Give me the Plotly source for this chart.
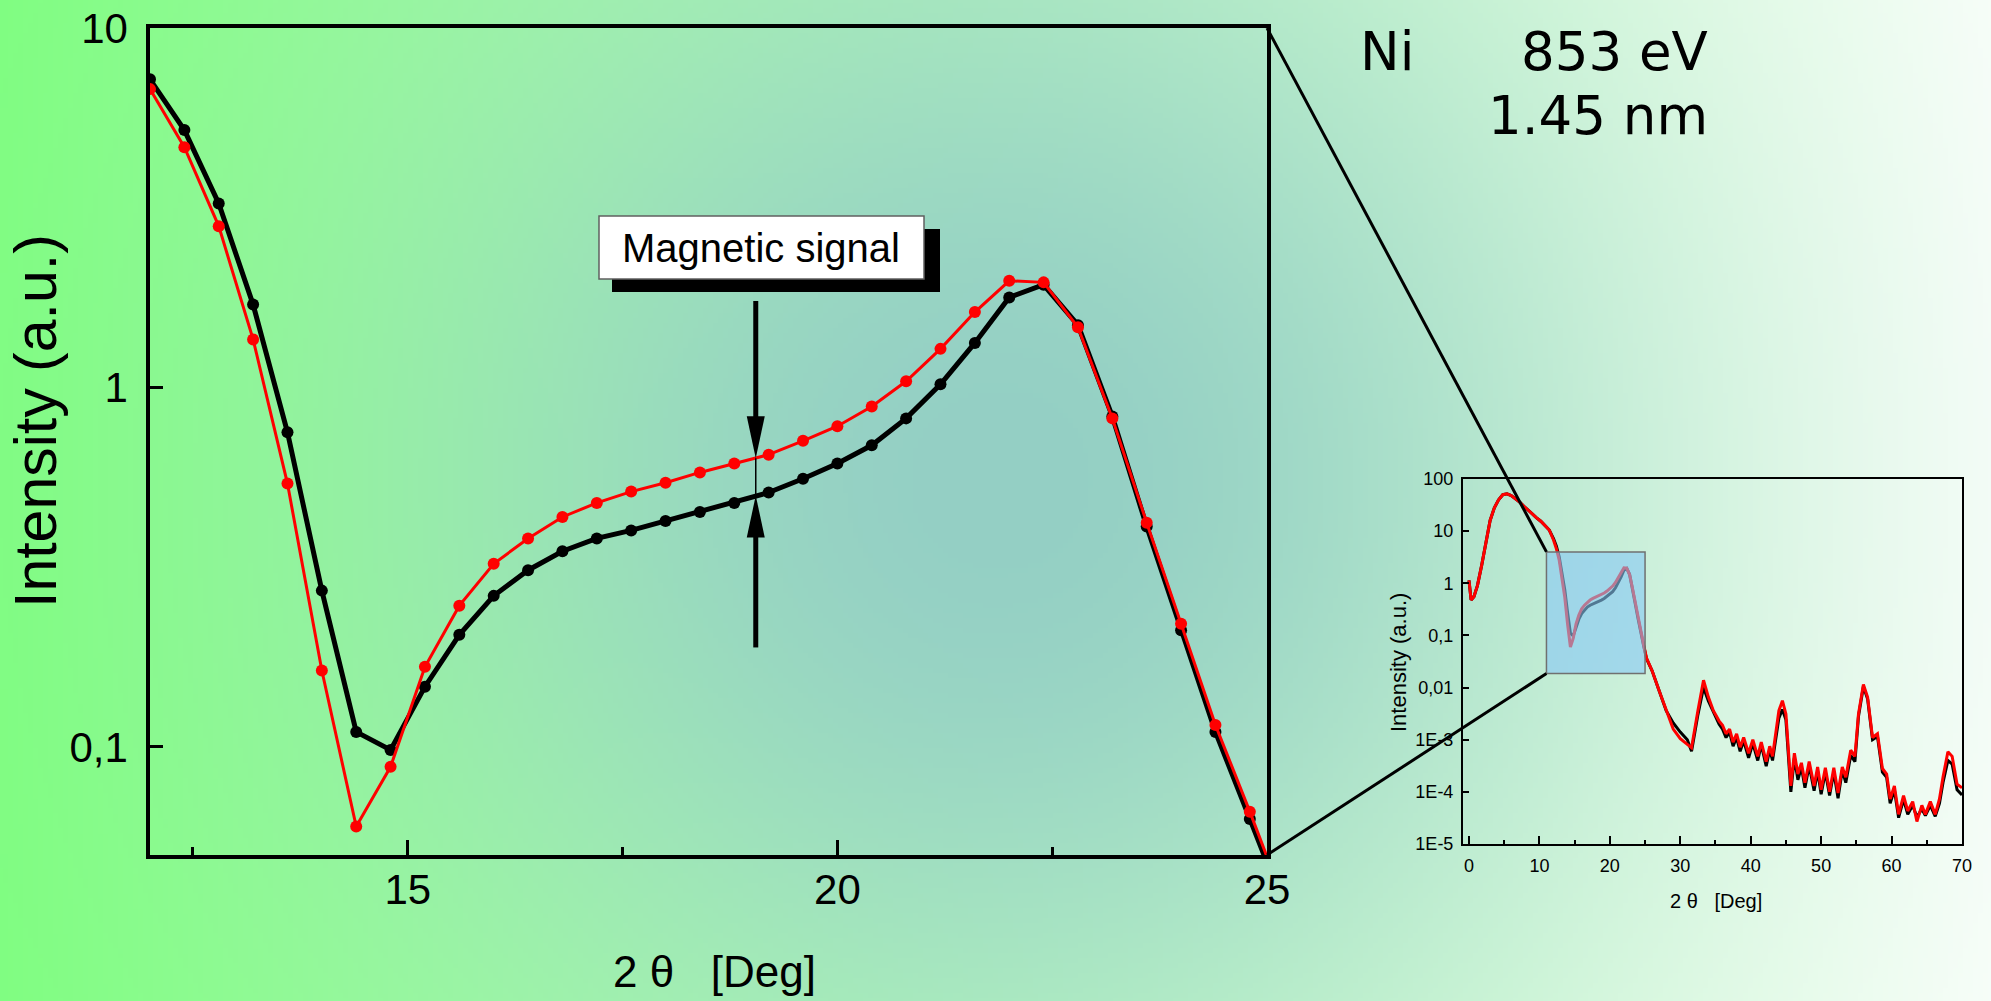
import base64
import struct
import zlib

import numpy as np
import plotly.graph_objects as go

W, H = 1991, 1001

# ---------------- data ----------------
theta_main = [12.0, 12.4, 12.8, 13.2, 13.6, 14.0, 14.4, 14.8, 15.2, 15.6, 16.0, 16.4,
              16.8, 17.2, 17.6, 18.0, 18.4, 18.8, 19.2, 19.6, 20.0, 20.4, 20.8, 21.2,
              21.6, 22.0, 22.4, 22.8, 23.2, 23.6, 24.0, 24.4, 24.8, 25.2]
black_main = [7.2, 5.2, 3.25, 1.70, 0.75, 0.272, 0.110, 0.098, 0.147, 0.205, 0.263, 0.31,
              0.35, 0.38, 0.40, 0.425, 0.45, 0.477, 0.51, 0.557, 0.614, 0.69, 0.82, 1.02,
              1.33, 1.78, 1.93, 1.49, 0.83, 0.41, 0.211, 0.110, 0.063, 0.036]
red_main = [6.76, 4.66, 2.81, 1.36, 0.54, 0.163, 0.060, 0.088, 0.167, 0.247, 0.323, 0.38,
            0.436, 0.477, 0.513, 0.543, 0.58, 0.614, 0.65, 0.71, 0.78, 0.885, 1.04, 1.28,
            1.62, 1.98, 1.96, 1.47, 0.82, 0.42, 0.22, 0.115, 0.066, 0.037]

theta_low = [0.0, 0.3, 0.7, 1.2, 1.8, 2.4, 3.0, 3.6, 4.2, 4.8, 5.4, 6.0, 6.6, 7.2, 7.8,
             8.4, 9.0, 9.6, 10.2, 10.8, 11.4]
both_low = [1.14, 0.48, 0.55, 0.9, 2.2, 6.5, 16, 28, 40, 50, 52, 48, 42, 36, 30,
            25, 21, 18, 15.5, 12.5, 10.5]

theta_high = [26.0, 27.0, 28.0, 29.0, 30.0, 31.0, 31.6, 32.5, 33.3, 34.0, 34.7, 35.5,
              36.0, 36.5, 37.0, 37.5, 38.0, 38.5, 39.0, 39.7, 40.3, 41.0, 41.5, 42.2,
              42.7, 43.1, 44.0, 44.5, 45.0, 45.7, 46.2, 46.7, 47.2, 47.7, 48.3, 49.0,
              49.5, 50.0, 50.6, 51.2, 51.8, 52.4, 53.0, 53.5, 54.2, 54.8, 55.3, 56.0,
              56.6, 57.3, 58.0, 58.7, 59.3, 59.8, 60.4, 61.0, 61.7, 62.3, 63.0, 63.6,
              64.3, 64.8, 65.5, 66.2, 66.8, 67.3, 68.0, 68.6, 69.3, 70.0]
red_high = [0.021, 0.0087, 0.0036, 0.0016, 1.05e-3, 8.3e-4, 7.0e-4, 3.6e-3, 0.0138, 6.5e-3,
            3.6e-3, 2.3e-3, 1.9e-3, 1.3e-3, 1.6e-3, 9.0e-4, 1.3e-3, 7.2e-4, 1.1e-3, 5.5e-4,
            1.0e-3, 4.8e-4, 9.0e-4, 3.8e-4, 7.5e-4, 4.8e-4, 3.6e-3, 5.6e-3, 3.1e-3, 1.3e-4,
            5.5e-4, 2.2e-4, 3.6e-4, 1.5e-4, 3.8e-4, 1.3e-4, 3.0e-4, 1.1e-4, 2.9e-4, 1.0e-4,
            2.9e-4, 9.5e-5, 3.0e-4, 1.9e-4, 6.3e-4, 4.8e-4, 3.1e-3, 0.0115, 6.5e-3, 1.1e-3,
            1.3e-3, 2.8e-4, 2.2e-4, 7.3e-5, 1.3e-4, 3.7e-5, 8.5e-5, 4.3e-5, 6.5e-5, 2.7e-5,
            5.5e-5, 3.7e-5, 6.5e-5, 3.7e-5, 7.3e-5, 1.9e-4, 5.9e-4, 4.8e-4, 1.4e-4, 1.2e-4]
black_high = [0.021, 0.0087, 0.0036, 0.0021, 1.4e-3, 1.0e-3, 6.0e-4, 3.0e-3, 0.0100, 5.5e-3,
              3.3e-3, 2.0e-3, 1.6e-3, 1.1e-3, 1.4e-3, 7.5e-4, 1.1e-3, 6.0e-4, 9.5e-4, 4.5e-4,
              8.5e-4, 4.0e-4, 8.0e-4, 3.1e-4, 6.5e-4, 4.0e-4, 2.6e-3, 3.8e-3, 2.4e-3, 1.0e-4,
              4.5e-4, 1.7e-4, 3.0e-4, 1.2e-4, 3.2e-4, 1.05e-4, 2.5e-4, 9.0e-5, 2.4e-4, 8.5e-5,
              2.4e-4, 7.5e-5, 2.6e-4, 1.5e-4, 5.0e-4, 3.8e-4, 2.8e-3, 0.0105, 6.0e-3, 1.0e-3,
              1.15e-3, 2.4e-4, 1.9e-4, 6.0e-5, 1.1e-4, 3.2e-5, 7.2e-5, 3.7e-5, 5.5e-5, 3.3e-5,
              4.7e-5, 3.5e-5, 5.5e-5, 3.4e-5, 6.0e-5, 1.5e-4, 4.0e-4, 3.4e-4, 1.1e-4, 8.7e-5]

main_ytickvals = [0.1, 1, 10]
main_yticktext = ["0,1", "1", "10"]
inset_ytickvals = [1e-5, 1e-4, 1e-3, 1e-2, 1e-1, 1, 10, 100]
inset_yticktext = ["1E-5", "1E-4", "1E-3", "0,01", "0,1", "1", "10", "100"]

# arrow geometry (data units)
arrow_x = 19.05
arrow_top_tail, arrow_top_tip = 1.74, 0.635
arrow_bot_tail, arrow_bot_tip = 0.189, 0.50
zoom_box_x = [11.0, 25.0]
zoom_box_y = [0.0186, 4.0]


# ---------------- background gradient (png) ----------------
def make_png(arr):
    h, w, _ = arr.shape
    raw = b"".join(b"\x00" + arr[r].tobytes() for r in range(h))

    def chunk(tag, data):
        return (struct.pack(">I", len(data)) + tag + data +
                struct.pack(">I", zlib.crc32(tag + data) & 0xFFFFFFFF))

    return (b"\x89PNG\r\n\x1a\n" +
            chunk(b"IHDR", struct.pack(">IIBBBBB", w, h, 8, 2, 0, 0, 0)) +
            chunk(b"IDAT", zlib.compress(raw, 9)) + chunk(b"IEND", b""))


gw, gh = 398, 200
gx = (np.arange(gw) + 0.5) / gw * W
gy = (np.arange(gh) + 0.5) / gh * H
XX, YY = np.meshgrid(gx, gy)
t = XX / W
green = np.array([128, 255, 128], float)
white = np.array([250, 255, 250], float)
teal = np.array([148, 207, 197], float)
base = green[None, None, :] * (1 - t[..., None]) + white[None, None, :] * t[..., None]
d2 = ((XX - 1000) ** 2 + (YY - 480) ** 2) / 600.0 ** 2
wgt = np.exp(-d2)[..., None]
img = base * (1 - wgt) + teal[None, None, :] * wgt
img = np.clip(img, 0, 255).astype(np.uint8)
bg_src = "data:image/png;base64," + base64.b64encode(make_png(img)).decode()


def px(x):
    return x / W


def py(y):
    return (H - y) / H


main_xdom = [px(150), px(1267)]
main_ydom = [py(855), py(28)]
ins_xdom = [px(1463), px(1962)]
ins_ydom = [py(844), py(479)]
main_xr = [12, 25]
main_yr = [np.log10(0.05), 1]
ins_xr = [-0.85, 70]
ins_yr = [-5, 2]


def ins_paper(xv, yv):
    fx = ins_xdom[0] + (xv - ins_xr[0]) / (ins_xr[1] - ins_xr[0]) * (ins_xdom[1] - ins_xdom[0])
    fy = ins_ydom[0] + (np.log10(yv) - ins_yr[0]) / (ins_yr[1] - ins_yr[0]) * (ins_ydom[1] - ins_ydom[0])
    return fx, fy


fig = go.Figure()

# inset traces
ins_theta = theta_low + theta_main + theta_high
ins_black = both_low + black_main + black_high
ins_red = both_low + red_main + red_high
fig.add_trace(go.Scatter(x=ins_theta, y=ins_black, mode="lines", xaxis="x2", yaxis="y2",
                         line=dict(color="black", width=3)))
fig.add_trace(go.Scatter(x=ins_theta, y=ins_red, mode="lines", xaxis="x2", yaxis="y2",
                         line=dict(color="#ff0000", width=3)))

# main traces
fig.add_trace(go.Scatter(x=theta_main, y=black_main, mode="lines+markers",
                         line=dict(color="black", width=5),
                         marker=dict(color="black", size=12)))
fig.add_trace(go.Scatter(x=theta_main, y=red_main, mode="lines+markers",
                         line=dict(color="#ff0000", width=3),
                         marker=dict(color="#ff0000", size=12)))

FONT = "Liberation Sans, Arial, sans-serif"
axis_common = dict(showgrid=False, zeroline=False, showline=True, linecolor="black",
                   mirror=True, ticks="inside", tickcolor="black", automargin=False)

fig.update_layout(
    width=W, height=H, autosize=False,
    margin=dict(l=0, r=0, t=0, b=0, pad=0),
    paper_bgcolor="#c8ecd0", plot_bgcolor="rgba(0,0,0,0)",
    showlegend=False,
    font=dict(family=FONT, color="black"),
    xaxis=dict(domain=main_xdom, range=main_xr, tickvals=[15, 20, 25], ticklen=15,
               tickwidth=3, linewidth=3.5, tickfont=dict(size=42, family=FONT),
               ticklabelstandoff=-5,
               minor=dict(tickvals=[12.5, 17.5, 22.5], ticklen=8, tickwidth=3,
                          ticks="inside", tickcolor="black"),
               **axis_common),
    yaxis=dict(domain=main_ydom, type="log", range=main_yr, tickvals=main_ytickvals,
               ticktext=main_yticktext, ticklen=13, tickwidth=3, linewidth=3.5,
               tickfont=dict(size=42, family=FONT), ticklabelstandoff=10,
               **axis_common),
    xaxis2=dict(domain=ins_xdom, range=ins_xr, anchor="y2", dtick=10, tick0=0, ticklen=8,
                tickwidth=1.5, linewidth=2, tickfont=dict(size=18, family=FONT),
                ticklabelstandoff=4,
                minor=dict(dtick=5, tick0=0, ticklen=4, tickwidth=1.5, ticks="inside",
                           tickcolor="black"),
                **axis_common),
    yaxis2=dict(domain=ins_ydom, anchor="x2", type="log", range=ins_yr,
                tickvals=inset_ytickvals, ticktext=inset_yticktext, ticklen=6, tickwidth=1.5,
                linewidth=2, tickfont=dict(size=18, family=FONT), ticklabelstandoff=4,
                **axis_common),
    images=[dict(source=bg_src, xref="paper", yref="paper", x=0, y=1, sizex=1, sizey=1,
                 xanchor="left", yanchor="top", sizing="stretch", layer="below")],
)

shapes = []
# zoom box on inset (shape coordinates on log axes are data values)
shapes.append(dict(type="rect", xref="x2", yref="y2", x0=zoom_box_x[0], x1=zoom_box_x[1],
                   y0=zoom_box_y[0], y1=zoom_box_y[1],
                   fillcolor="rgba(135,200,245,0.6)", line=dict(color="#707070", width=1.5),
                   layer="above"))
# connector lines
bx0, by1 = ins_paper(zoom_box_x[0], zoom_box_y[1])
_, by0 = ins_paper(zoom_box_x[0], zoom_box_y[0])
shapes.append(dict(type="line", xref="paper", yref="paper", x0=main_xdom[1], y0=main_ydom[1],
                   x1=bx0, y1=by1, line=dict(color="black", width=3), layer="above"))
shapes.append(dict(type="line", xref="paper", yref="paper", x0=main_xdom[1], y0=main_ydom[0],
                   x1=bx0, y1=by0, line=dict(color="black", width=3), layer="above"))
# label box with shadow
shapes.append(dict(type="rect", xref="paper", yref="paper", x0=px(612), x1=px(940),
                   y0=py(292), y1=py(229), fillcolor="black", line=dict(width=0),
                   layer="above"))
shapes.append(dict(type="rect", xref="paper", yref="paper", x0=px(599), x1=px(924),
                   y0=py(279), y1=py(216), fillcolor="white",
                   line=dict(color="#606060", width=1.5), layer="above"))
# arrows
shapes.append(dict(type="line", xref="x", yref="y", x0=arrow_x, x1=arrow_x,
                   y0=arrow_top_tail, y1=arrow_top_tip * 1.2,
                   line=dict(color="black", width=5), layer="above"))
shapes.append(dict(type="line", xref="x", yref="y", x0=arrow_x, x1=arrow_x,
                   y0=arrow_bot_tail, y1=arrow_bot_tip / 1.2,
                   line=dict(color="black", width=5), layer="above"))
shapes.append(dict(type="line", xref="x", yref="y", x0=arrow_x, x1=arrow_x,
                   y0=arrow_bot_tip, y1=arrow_top_tip,
                   line=dict(color="black", width=1.5), layer="above"))
shapes.append(dict(type="path", xref="x", yref="y", xsizemode="pixel", ysizemode="pixel",
                   xanchor=arrow_x, yanchor=arrow_top_tip,
                   path="M0,0 L-9,42 L9,42 Z", fillcolor="black", line=dict(width=0),
                   layer="above"))
shapes.append(dict(type="path", xref="x", yref="y", xsizemode="pixel", ysizemode="pixel",
                   xanchor=arrow_x, yanchor=arrow_bot_tip,
                   path="M0,0 L-9,-42 L9,-42 Z", fillcolor="black", line=dict(width=0),
                   layer="above"))
fig.update_layout(shapes=shapes)

DV = "DejaVu Sans, Verdana, sans-serif"
ann = [
    dict(text="Intensity (a.u.)", x=px(36), y=py(421), textangle=-90,
         font=dict(size=59, family=FONT)),
    dict(text="2 θ   [Deg]", x=px(714), y=py(971), font=dict(size=44, family=FONT)),
    dict(text="Intensity (a.u.)", x=px(1398), y=py(663), textangle=-90,
         font=dict(size=22, family=FONT)),
    dict(text="2 θ   [Deg]", x=px(1716), y=py(901), font=dict(size=20, family=FONT)),
    dict(text="Magnetic signal", x=px(761), y=py(248), font=dict(size=40, family=FONT)),
    dict(text="Ni", x=px(1358), y=py(51), xanchor="left", font=dict(size=53, family=DV)),
    dict(text="853 eV", x=px(1710), y=py(51), xanchor="right", font=dict(size=53, family=DV)),
    dict(text="1.45 nm", x=px(1710), y=py(116), xanchor="right",
         font=dict(size=53, family=DV)),
]
for a in ann:
    a.setdefault("xanchor", "center")
    a.update(xref="paper", yref="paper", yanchor="middle", showarrow=False)
fig.update_layout(annotations=ann)

fig.write_html("out.html", config={"displayModeBar": False},
               post_script="document.body.style.margin='0';document.body.style.overflow='hidden';")
